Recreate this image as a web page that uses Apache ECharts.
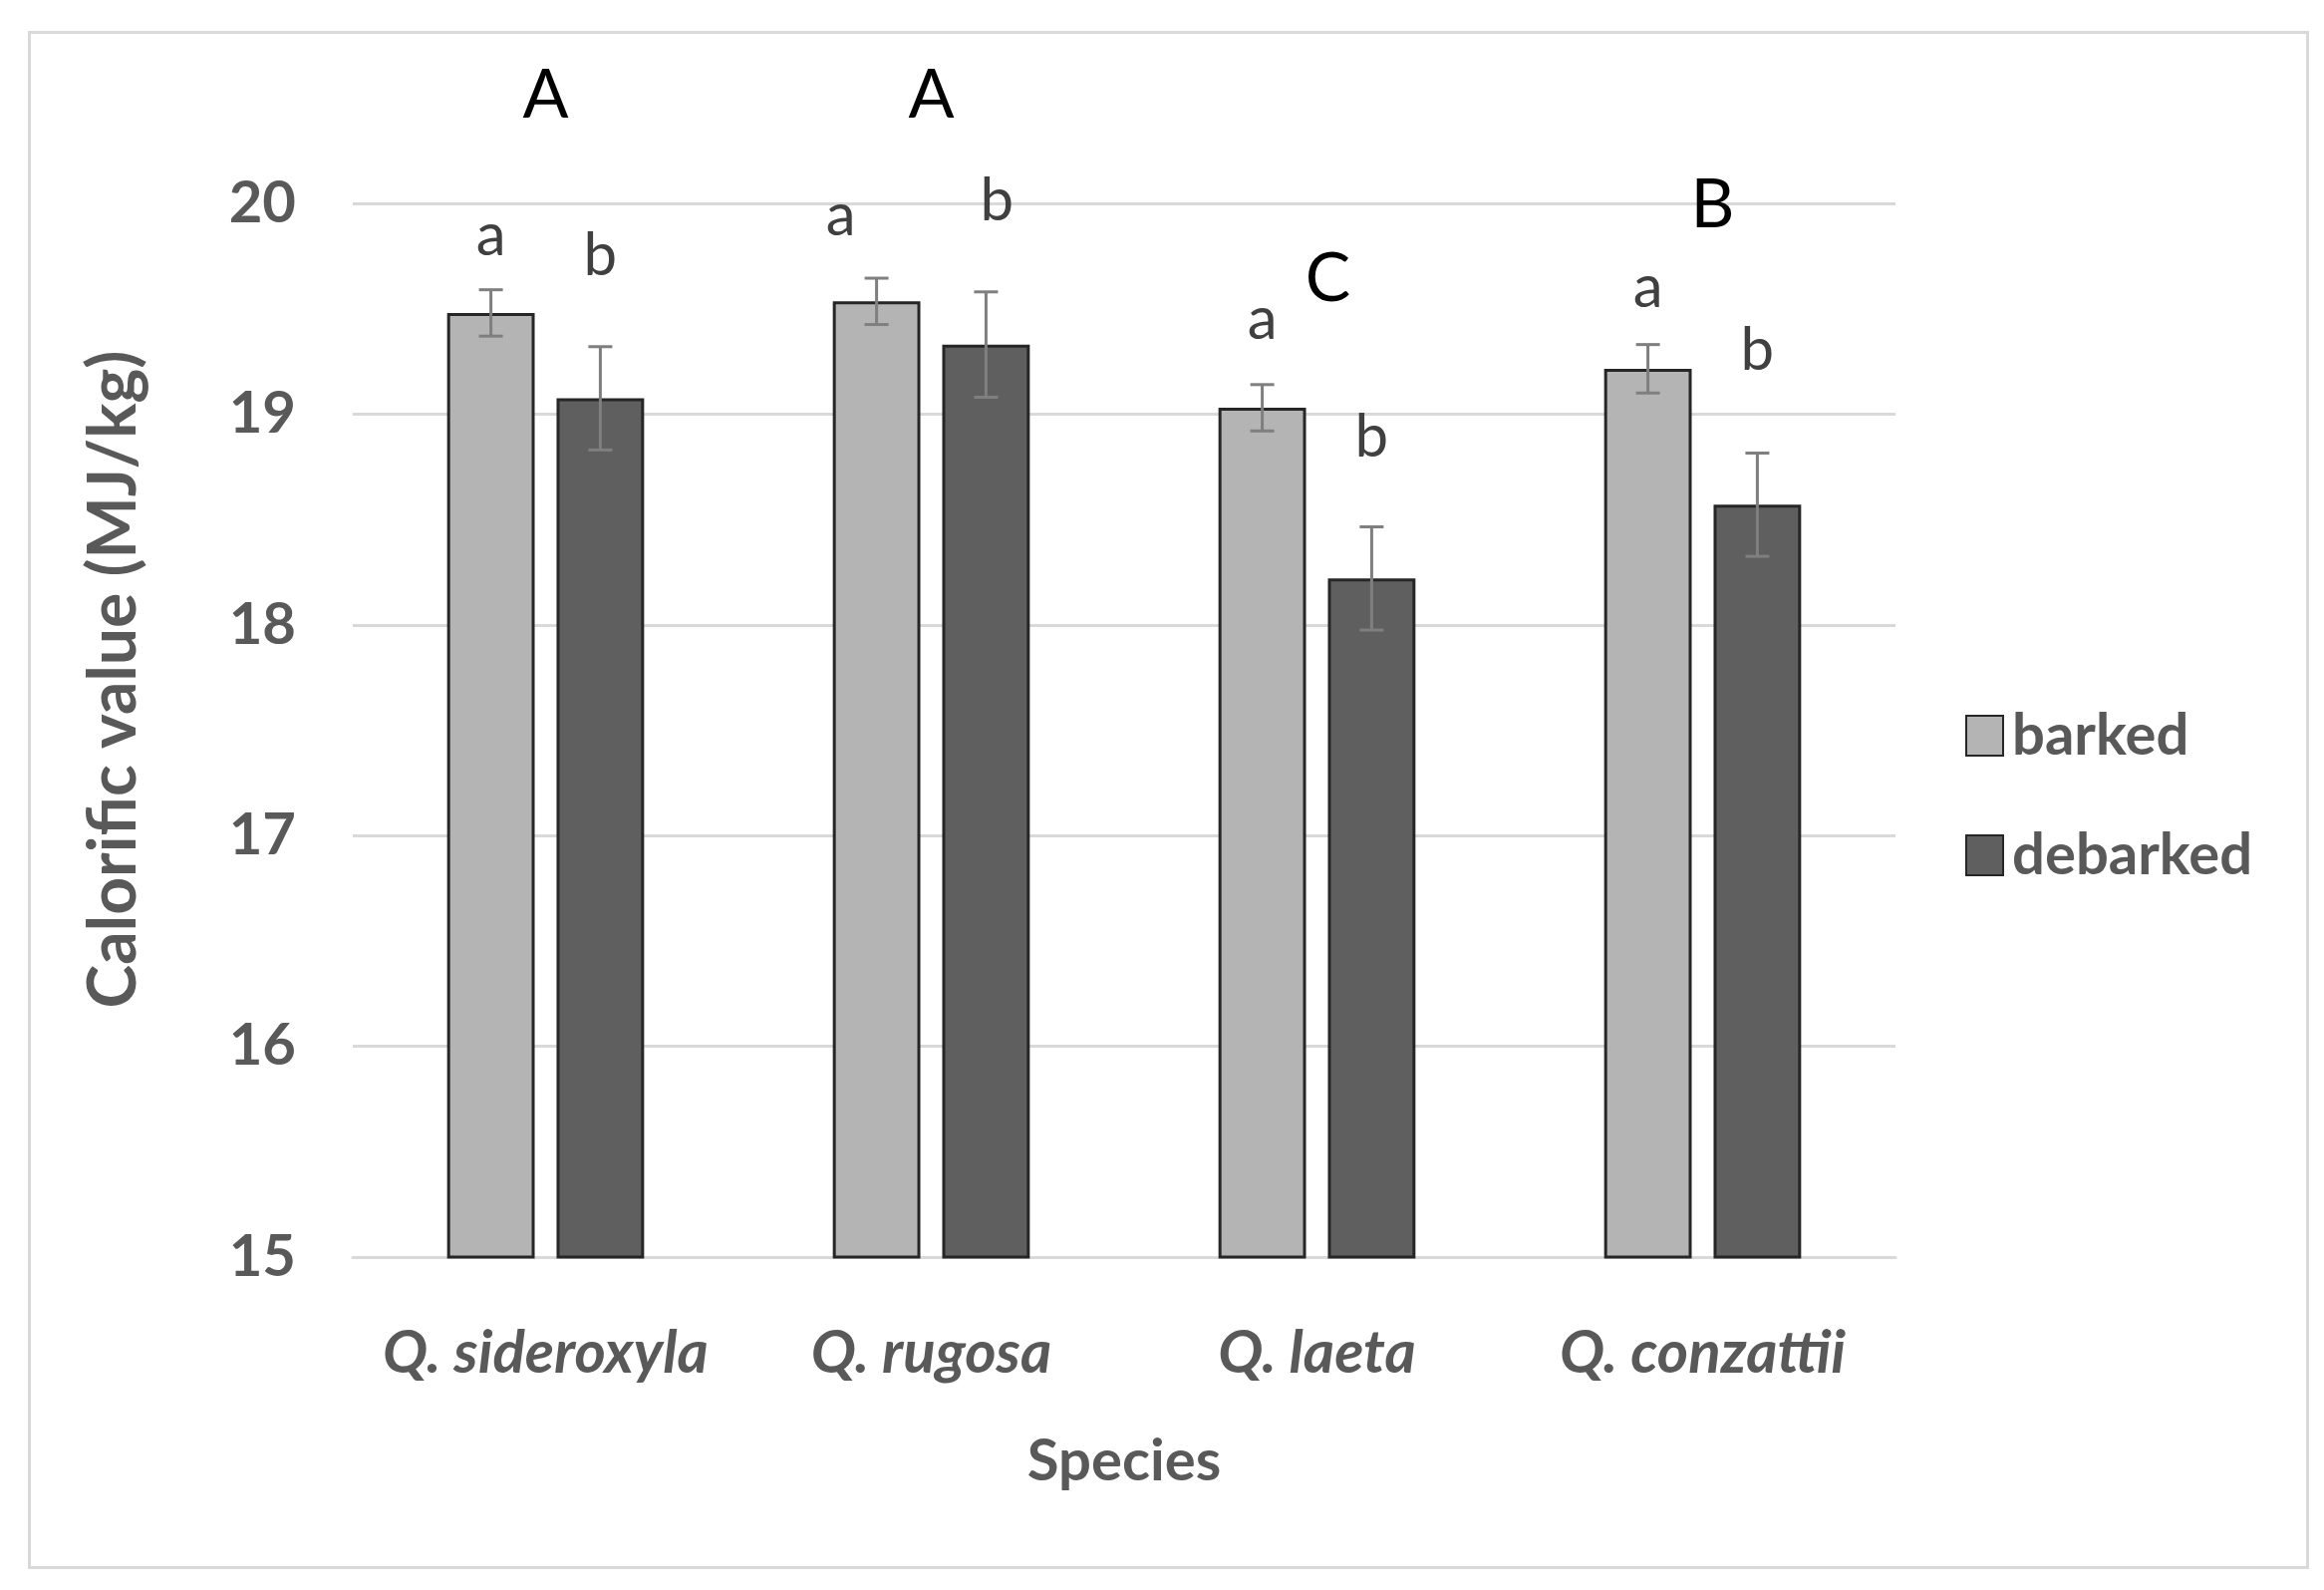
<!DOCTYPE html>
<html>
<head>
<meta charset="utf-8">
<script src="https://cdn.jsdelivr.net/npm/echarts@6/dist/echarts.min.js"></script>
<style>
html,body{margin:0;padding:0;background:#fff;}
#container{width:2332px;height:1595px;}
</style>
</head>
<body>
<div id="container"></div>
<script>
// values
var species = ['Q. sideroxyla', 'Q. rugosa', 'Q. laeta', 'Q. conzattii'];
var barked = [19.48, 19.535, 19.03, 19.215];
var debarked = [19.075, 19.33, 18.22, 18.57];
var barkedErr = [0.11, 0.11, 0.11, 0.115];
var debarkedErr = [0.245, 0.25, 0.245, 0.245];
var yTicks = [15, 16, 17, 18, 19, 20];

// significance letters and the height (in MJ/kg) they sit at
var barkedLetters = ['a', 'a', 'a', 'a'];
var barkedLetterY = [19.845, 19.94, 19.45, 19.60];
var debarkedLetters = ['b', 'b', 'b', 'b'];
var debarkedLetterY = [19.75, 20.01, 18.89, 19.30];
var groupLetters = ['A', 'A', 'C', 'B'];
var groupLetterY = [20.51, 20.51, 19.64, 19.99];

// small sideways nudges of letters (px)
var barkedLetterDx = [0, -36, 0, 0];
var debarkedLetterDx = [0, 11, 0, 0];
var groupLetterDx = [0, 0, 11, 10];

var BAR_W = 0.227;
var BAR_GAP = 0.25;
var FONT = 'Lato';
var GREY = '#595959';

function errSeries(name, means, errs, letters, letterY, letterDx, side) {
	return {
		type: 'custom',
		name: name,
		silent: true,
		z: 10,
		data: means.map(function (m, i) { return [i, m, errs[i]]; }),
		renderItem: function (params, api) {
			var i = params.dataIndex;
			var band = api.size([1, 0])[0];
			var off = side * band * (BAR_W + BAR_W * BAR_GAP) / 2;
			var top = api.coord([api.value(0), api.value(1) + api.value(2)]);
			var bot = api.coord([api.value(0), api.value(1) - api.value(2)]);
			var lp = api.coord([api.value(0), letterY[i]]);
			var x = top[0] + off;
			var cap = 12;
			var st = {stroke: '#7f7f7f', lineWidth: 3};
			return {
				type: 'group',
				children: [
					{type: 'line', shape: {x1: x, y1: top[1], x2: x, y2: bot[1]}, style: st},
					{type: 'line', shape: {x1: x - cap, y1: top[1], x2: x + cap, y2: top[1]}, style: st},
					{type: 'line', shape: {x1: x - cap, y1: bot[1], x2: x + cap, y2: bot[1]}, style: st},
					{type: 'text', x: x + letterDx[i], y: lp[1], style: {
						text: letters[i], fill: '#404040', fontFamily: FONT, fontSize: 60,
						align: 'center', verticalAlign: 'middle'}}
				]
			};
		}
	};
}

var option = {
	backgroundColor: '#fff',
	animation: false,
	graphic: [{
		type: 'rect', left: 27, top: 30,
		shape: {width: 2286, height: 1540},
		style: {fill: 'none', stroke: '#d9d9d9', lineWidth: 3}
	}],
	grid: {left: 354, right: 430, top: 204, bottom: 334},
	legend: {
		data: ['barked', 'debarked'],
		orient: 'vertical',
		left: 1967,
		top: 704,
		itemWidth: 37,
		itemHeight: 40,
		itemGap: 62,
		icon: 'rect',
		textStyle: {color: GREY, fontFamily: FONT, fontWeight: 'bold', fontSize: 58, padding: [0, 0, 0, 4]}
	},
	xAxis: {
		type: 'category',
		data: species,
		name: 'Species',
		nameLocation: 'middle',
		nameGap: 176,
		nameTextStyle: {color: GREY, fontFamily: FONT, fontWeight: 'bold', fontSize: 58},
		axisLine: {lineStyle: {color: '#d9d9d9', width: 3}},
		axisTick: {show: false},
		axisLabel: {interval: 0, color: GREY, fontFamily: FONT, fontWeight: 'bold', fontStyle: 'italic', fontSize: 60, margin: 67}
	},
	yAxis: {
		type: 'value',
		min: yTicks[0],
		max: yTicks[yTicks.length - 1],
		interval: 1,
		name: 'Calorific value (MJ/kg)',
		nameLocation: 'middle',
		nameGap: 206,
		nameTextStyle: {color: GREY, fontFamily: FONT, fontWeight: 'bold', fontSize: 66, padding: [0, 0, 0, 102]},
		axisLine: {show: false},
		axisTick: {show: false},
		splitLine: {lineStyle: {color: '#d9d9d9', width: 3}},
		axisLabel: {color: GREY, fontFamily: FONT, fontWeight: 'bold', fontSize: 58, margin: 57}
	},
	series: [
		{
			name: 'barked', type: 'bar', data: barked,
			barWidth: (BAR_W * 100) + '%', barGap: (BAR_GAP * 100) + '%',
			itemStyle: {color: '#b4b4b4', borderColor: '#262626', borderWidth: 3}
		},
		{
			name: 'debarked', type: 'bar', data: debarked,
			barWidth: (BAR_W * 100) + '%', barGap: (BAR_GAP * 100) + '%',
			itemStyle: {color: '#5f5f5f', borderColor: '#262626', borderWidth: 3}
		},
		errSeries('barked-err', barked, barkedErr, barkedLetters, barkedLetterY, barkedLetterDx, -1),
		errSeries('debarked-err', debarked, debarkedErr, debarkedLetters, debarkedLetterY, debarkedLetterDx, 1),
		{
			type: 'custom',
			name: 'groups',
			silent: true,
			z: 10,
			data: groupLetterY.map(function (v, i) { return [i, v]; }),
			renderItem: function (params, api) {
				var i = params.dataIndex;
				var p = api.coord([api.value(0), api.value(1)]);
				return {type: 'text', x: p[0] + groupLetterDx[i], y: p[1], style: {
					text: groupLetters[i], fill: '#000', fontFamily: FONT, fontSize: 68,
					align: 'center', verticalAlign: 'middle'}};
			}
		}
	]
};

var myChart = echarts.init(document.getElementById('container'));
myChart.setOption(option, true);
</script>
</body>
</html>
